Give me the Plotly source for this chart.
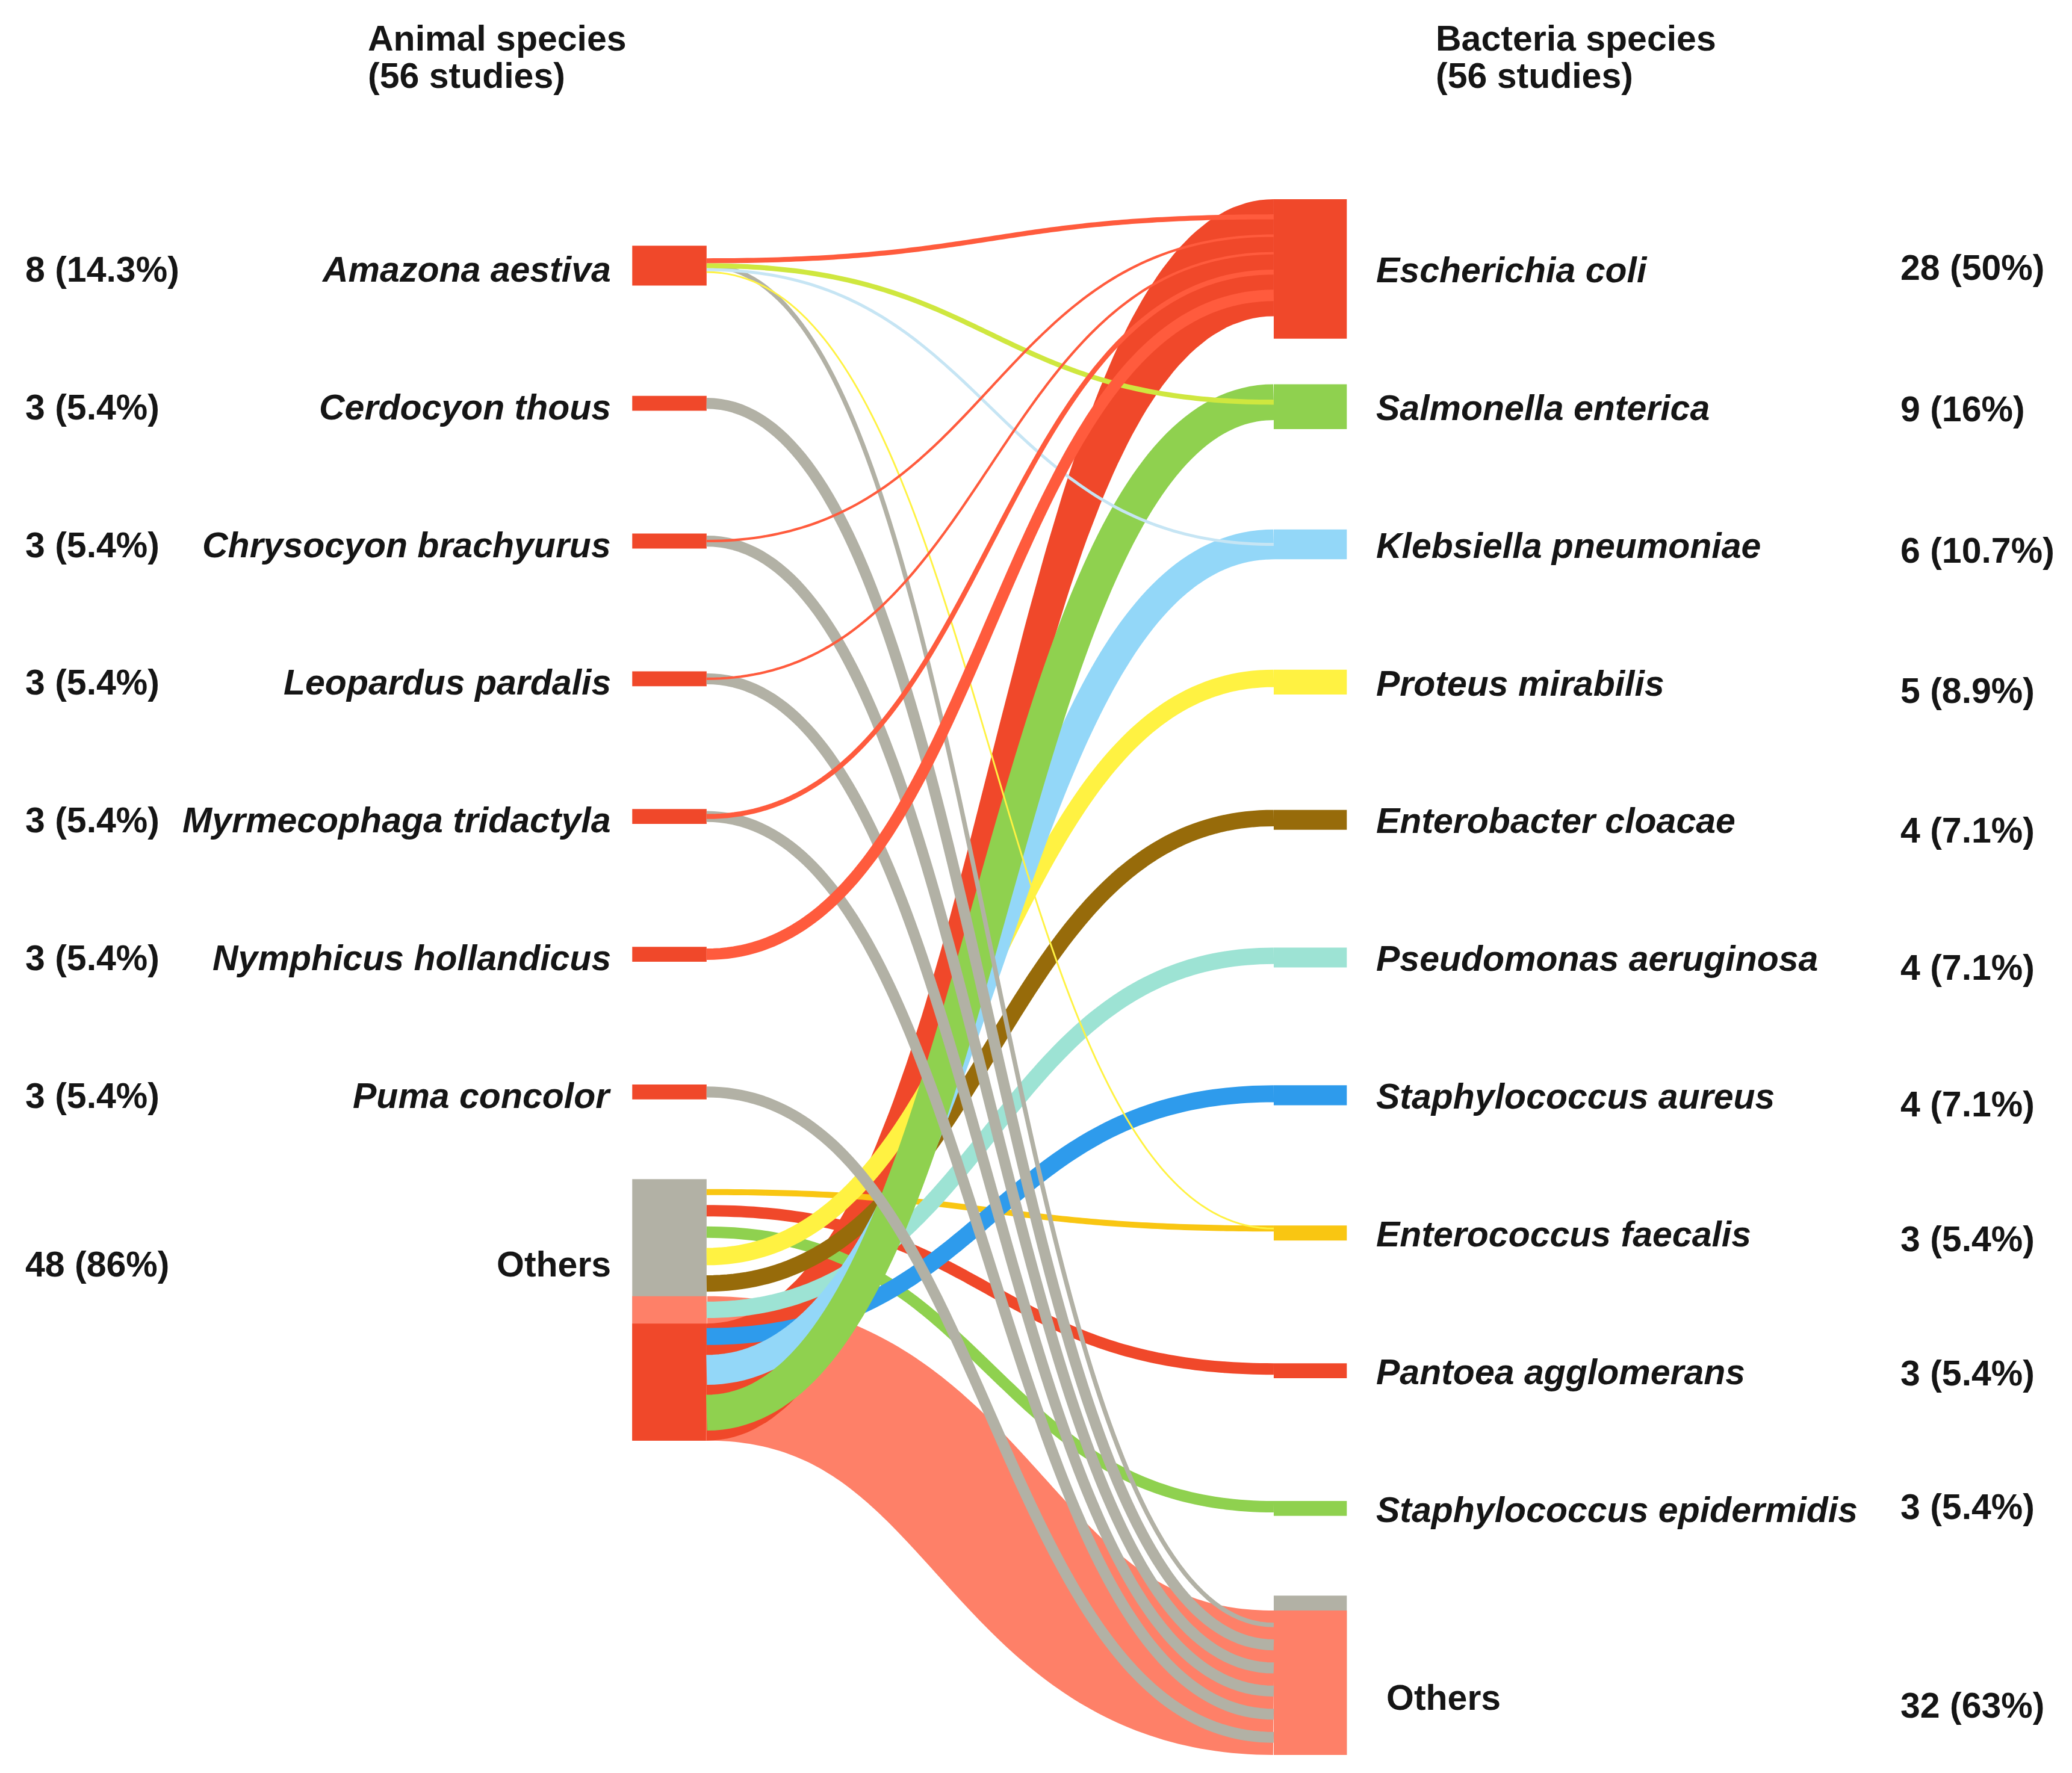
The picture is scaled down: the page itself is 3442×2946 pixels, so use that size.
import numpy as np
import plotly.graph_objects as go

# ---------------- data ----------------
left_names = ["Amazona aestiva", "Cerdocyon thous", "Chrysocyon brachyurus",
              "Leopardus pardalis", "Myrmecophaga tridactyla",
              "Nymphicus hollandicus", "Puma concolor", "Others"]
left_counts = [8, 3, 3, 3, 3, 3, 3, 48]
left_count_labels = ["8 (14.3%)", "3 (5.4%)", "3 (5.4%)", "3 (5.4%)",
                     "3 (5.4%)", "3 (5.4%)", "3 (5.4%)", "48 (86%)"]

right_names = ["Escherichia coli", "Salmonella enterica", "Klebsiella pneumoniae",
               "Proteus mirabilis", "Enterobacter cloacae", "Pseudomonas aeruginosa",
               "Staphylococcus aureus", "Enterococcus faecalis", "Pantoea agglomerans",
               "Staphylococcus epidermidis", "Others"]
right_counts = [28, 9, 6, 5, 4, 4, 4, 3, 3, 3, 32]
right_count_labels = ["28 (50%)", "9 (16%)", "6 (10.7%)", "5 (8.9%)", "4 (7.1%)",
                      "4 (7.1%)", "4 (7.1%)", "3 (5.4%)", "3 (5.4%)", "3 (5.4%)",
                      "32 (63%)"]

link_source = ["Amazona aestiva", "Amazona aestiva", "Amazona aestiva",
               "Amazona aestiva", "Amazona aestiva",
               "Cerdocyon thous",
               "Chrysocyon brachyurus", "Chrysocyon brachyurus",
               "Leopardus pardalis", "Leopardus pardalis",
               "Myrmecophaga tridactyla", "Myrmecophaga tridactyla",
               "Nymphicus hollandicus",
               "Puma concolor",
               "Others", "Others", "Others", "Others", "Others", "Others",
               "Others", "Others", "Others", "Others", "Others"]
link_target = ["Others", "Escherichia coli", "Salmonella enterica",
               "Klebsiella pneumoniae", "Enterococcus faecalis",
               "Others",
               "Others", "Escherichia coli",
               "Others", "Escherichia coli",
               "Others", "Escherichia coli",
               "Escherichia coli",
               "Others",
               "Others", "Escherichia coli", "Enterococcus faecalis",
               "Pantoea agglomerans", "Staphylococcus epidermidis",
               "Proteus mirabilis", "Enterobacter cloacae", "Pseudomonas aeruginosa",
               "Staphylococcus aureus", "Klebsiella pneumoniae", "Salmonella enterica"]
link_value = [0.9, 1.0, 1.0, 0.6, 0.35,
              2.2,
              2.2, 0.5,
              2.2, 0.5,
              2.2, 1.0,
              2.3,
              2.2,
              29.0, 23.5, 1.2, 2.3, 2.3, 3.5, 3.3, 3.3, 3.4, 6.0, 7.2]

title_left = ["Animal species", "(56 studies)"]
title_right = ["Bacteria species", "(56 studies)"]

# ---------------- styles ----------------
RED = "#F0482A"
GREY = "#B2B1A5"
SALMON = "#FE8068"
right_node_color = {
    "Escherichia coli": RED, "Salmonella enterica": "#8FD14F",
    "Klebsiella pneumoniae": "#93D7F8", "Proteus mirabilis": "#FFF242",
    "Enterobacter cloacae": "#976B0A", "Pseudomonas aeruginosa": "#9DE3D4",
    "Staphylococcus aureus": "#2E9BEC", "Enterococcus faecalis": "#F9C612",
    "Pantoea agglomerans": RED, "Staphylococcus epidermidis": "#8FD14F",
    "Others": GREY}
named_link_color = {"Escherichia coli": "#FF5B3D", "Salmonella enterica": "#CFE73F",
                    "Klebsiella pneumoniae": "#C6E5F4", "Enterococcus faecalis": "#FFF242"}
RIBBON_LINKS = {("Others", "Escherichia coli")}   # drawn as constant-height band
TEXT = "#151515"
FONT = "Liberation Sans, Arial, Helvetica, sans-serif"
FS = 59

# ---------------- layout geometry (canvas units) ----------------
W, H = 1560, 1335
PX = 3442 / W            # screen px per canvas unit
K = 3.75                 # canvas units per study
LX = (476, 532)
RX = (959, 1014)
STEP = 103.7
GAP_OTHERS = 60

n = len(link_value)
widths = [v * K for v in link_value]


def node_heights(names, counts, side):
    hs = []
    for name, c in zip(names, counts):
        if name == "Others":
            if side == "L":
                base = [link_value[l] for l in range(n) if link_source[l] == name and
                        (link_target[l] == "Others" or link_value[l] >= 10)]
            else:
                base = [link_value[l] for l in range(n) if link_target[l] == name and
                        (link_source[l] == "Others" or link_value[l] >= 10)]
            hs.append(max(c, sum(base)) * K)
        else:
            hs.append(c * K)
    return hs


def column(names, hs, y0):
    tops = []
    prev_bottom = None
    for i, (name, h) in enumerate(zip(names, hs)):
        if name == "Others":
            top = prev_bottom + GAP_OTHERS
        else:
            top = y0 + STEP * i - h / 2
        tops.append(top)
        prev_bottom = top + h
    return tops


l_h = node_heights(left_names, left_counts, "L")
r_h = node_heights(right_names, right_counts, "R")
l_top = column(left_names, l_h, 200.0)
r_top = column(right_names, r_h, 202.5)

src = [left_names.index(s) for s in link_source]
tgt = [right_names.index(t) for t in link_target]


def link_color(l):
    s, t = link_source[l], link_target[l]
    if t == "Others":
        return SALMON if s == "Others" else GREY
    if s != "Others":
        return named_link_color.get(t, right_node_color[t])
    return right_node_color[t]


def place(node_links, top, h, is_base, align, is_others):
    pos = {}
    base = [l for l in node_links if is_base(l)]
    over = [l for l in node_links if not is_base(l)]
    for l in base:
        w = widths[l]
        if align == "bottom":
            pos[l] = top + h - w
        elif align == "center":
            pos[l] = top + (h - w) / 2
        else:
            pos[l] = top
    if base:
        s0 = min(pos[l] for l in base)
        s1 = max(pos[l] + widths[l] for l in base)
    else:
        s0, s1 = top, top + h
    tot = sum(widths[l] for l in over)
    if tot > s1 - s0:
        if is_others:
            s0, s1 = top, top + h
        else:
            mid = (s0 + s1) / 2
            s0, s1 = mid - tot / 2, mid + tot / 2
    gap = (s1 - s0 - tot) / (len(over) + 1)
    y = s0 + gap
    for l in over:
        pos[l] = y
        y += widths[l] + gap
    return pos, base


ys = [0.0] * n
yt = [0.0] * n
base_src = set()
base_links_by_left = {}
base_links_by_right = {}
for i, name in enumerate(left_names):
    ls = [l for l in range(n) if src[l] == i]
    is_b = (lambda l, name=name: link_target[l] == "Others" or
            (name == "Others" and link_value[l] >= 10))
    align = "bottom" if name == "Others" else "center"
    pos, base = place(ls, l_top[i], l_h[i], is_b, align, name == "Others")
    for l, y in pos.items():
        ys[l] = y
    base_src.update(base)
    base_links_by_left[i] = base
for j, name in enumerate(right_names):
    ls = [l for l in range(n) if tgt[l] == j]
    is_b = (lambda l, name=name: link_source[l] == "Others" or
            (name == "Others" and link_value[l] >= 10))
    align = "bottom" if name == "Others" else "top"
    pos, base = place(ls, r_top[j], r_h[j], is_b, align, name == "Others")
    for l, y in pos.items():
        yt[l] = y
    base_links_by_right[j] = base

fig = go.Figure()


def rect(x0, x1, y0, y1, color):
    fig.add_trace(go.Scatter(x=[x0, x1, x1, x0, x0], y=[y0, y0, y1, y1, y0],
                             mode="lines", fill="toself", fillcolor=color,
                             line=dict(width=0, color=color), hoverinfo="skip"))


# nodes
for i, name in enumerate(left_names):
    rect(LX[0], LX[1], l_top[i], l_top[i] + l_h[i], GREY if name == "Others" else RED)
    if name == "Others":
        for l in base_links_by_left[i]:
            rect(LX[0], LX[1], ys[l], ys[l] + widths[l], link_color(l))
for j, name in enumerate(right_names):
    rect(RX[0], RX[1], r_top[j], r_top[j] + r_h[j], right_node_color[name])
    if name == "Others":
        for l in base_links_by_right[j]:
            rect(RX[0], RX[1], yt[l], yt[l] + widths[l], link_color(l))

# links
t = np.linspace(0, 1, 120)


def bez(a, b, c, d):
    return (1 - t) ** 3 * a + 3 * (1 - t) ** 2 * t * b + 3 * (1 - t) * t ** 2 * c + t ** 3 * d


order = sorted(range(n), key=lambda l: (0 if link_source[l] == "Others" else 1,
                                        0 if l in base_src else 1, l))
x0, x1 = LX[1], RX[0]
xm = (x0 + x1) / 2
xs = bez(x0, xm, xm, x1)
for l in order:
    col = link_color(l)
    w = widths[l]
    if (link_source[l], link_target[l]) in RIBBON_LINKS:
        ytop = bez(ys[l], ys[l], yt[l], yt[l])
        ybot = ytop + w
        fig.add_trace(go.Scatter(x=np.concatenate([xs, xs[::-1]]),
                                 y=np.concatenate([ytop, ybot[::-1]]),
                                 mode="lines", fill="toself", fillcolor=col,
                                 line=dict(width=0, color=col), hoverinfo="skip"))
    else:
        yc = bez(ys[l] + w / 2, ys[l] + w / 2, yt[l] + w / 2, yt[l] + w / 2)
        fig.add_trace(go.Scatter(x=xs, y=yc, mode="lines",
                                 line=dict(width=w * PX, color=col, simplify=False),
                                 hoverinfo="skip"))

# text
ann = []


def txt(x, y, s, xanchor, italic=False):
    ann.append(dict(x=x, y=y, xref="x", yref="y", text=s, showarrow=False,
                    xanchor=xanchor, yanchor="middle",
                    font=dict(family=FONT, size=FS, color=TEXT, weight="bold",
                              style="italic" if italic else "normal")))


for i, name in enumerate(left_names):
    c = l_top[i] + l_h[i] / 2
    y = c - 34 if name == "Others" else c + 3
    txt(461, y, name, "right", italic=(name != "Others"))
    txt(18, y, left_count_labels[i], "left")
n_named = len(right_names) - 1
for j, name in enumerate(right_names):
    c = r_top[j] + r_h[j] / 2
    if name == "Others":
        txt(1043, c + 17, name, "left")
        txt(1430, c + 23, right_count_labels[j], "left")
    else:
        txt(1035, c + 1, name, "left", italic=True)
        txt(1430, c + 9 * np.sin(np.pi * j / (n_named - 1)) - 1,
            right_count_labels[j], "left")

for k, line in enumerate(title_left):
    txt(276, 29 + 28 * k, line, "left")
for k, line in enumerate(title_right):
    txt(1080, 29 + 28 * k, line, "left")

fig.update_layout(
    width=3442, height=2946, autosize=False,
    margin=dict(l=0, r=0, t=0, b=0, pad=0),
    paper_bgcolor="white", plot_bgcolor="white",
    showlegend=False, hovermode=False,
    xaxis=dict(range=[0, W], visible=False, fixedrange=True),
    yaxis=dict(range=[H, 0], visible=False, fixedrange=True),
    annotations=ann,
)

fig.write_html("out.html",
               config={"displayModeBar": False, "staticPlot": True},
               post_script="document.body.style.margin='0';"
                           "document.body.style.overflow='hidden';")
